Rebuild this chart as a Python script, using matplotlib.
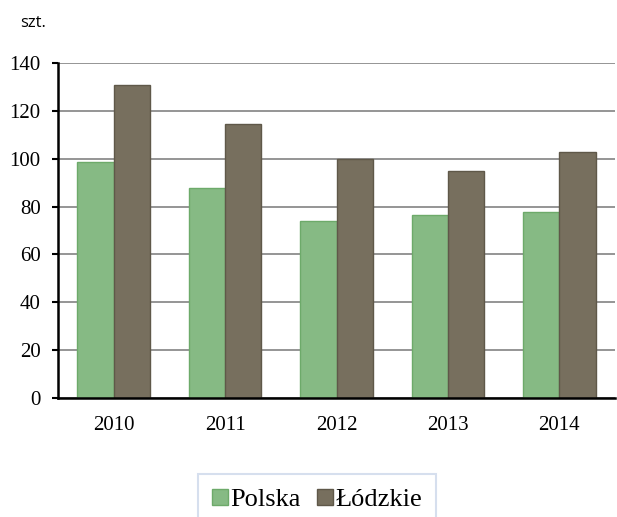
import matplotlib
matplotlib.use("Agg")
import matplotlib.pyplot as plt
import numpy as np

years = ["2010", "2011", "2012", "2013", "2014"]
polska = [98.7, 87.9, 74.1, 76.5, 77.6]
lodzkie = [130.8, 114.5, 99.9, 94.9, 102.8]
series_names = ["Polska", "Łódzkie"]
y_ticks = [0, 20, 40, 60, 80, 100, 120, 140]

serif = ["Liberation Serif", "DejaVu Serif"]

fig = plt.figure(figsize=(6.17, 5.17), dpi=100)
ax = fig.add_axes([58 / 617, 119 / 517, 557 / 617, 335 / 517])

x = np.arange(len(years))
w = 0.325
ax.bar(x - w / 2, polska, w, color="#86BA84", edgecolor="#6DAA6A", linewidth=1.0,
       label=series_names[0], zorder=3)
ax.bar(x + w / 2, lodzkie, w, color="#776F5E", edgecolor="#5F5849", linewidth=1.0,
       label=series_names[1], zorder=3)

ax.set_xlim(-0.5, len(years) - 0.5)
ax.set_ylim(0, 140)
ax.set_yticks(y_ticks)
ax.set_yticklabels([str(t) for t in y_ticks], fontfamily=serif, fontsize=15)
ax.set_xticks(x)
ax.set_xticklabels(years, fontfamily=serif, fontsize=15)
ax.tick_params(axis="x", length=0, pad=13)
ax.tick_params(axis="y", length=4.5, width=1.5, direction="out", pad=8)

ax.grid(axis="y", color="#8C8C8C", linewidth=1.3, zorder=0)
for s in ["top", "right"]:
    ax.spines[s].set_visible(False)
ax.spines["left"].set_linewidth(1.8)
ax.spines["bottom"].set_linewidth(1.8)
ax.spines["left"].set_color("black")
ax.spines["bottom"].set_color("black")
ax.spines["bottom"].set_zorder(4)

fig.text(20 / 617, 1 - 23 / 517, "szt.", fontfamily=["Open Sans", "DejaVu Sans"],
         fontsize=12, va="center", ha="left")

leg = fig.legend(loc="upper center", bbox_to_anchor=(317 / 617, 1 - 474 / 517),
                 ncol=2, frameon=True, fancybox=False, prop={"family": serif, "size": 19},
                 handlelength=0.6, handleheight=0.6, handletextpad=0.1,
                 columnspacing=0.6, borderpad=0.55, borderaxespad=0)
leg.get_frame().set_edgecolor("#CCD8EA")
leg.get_frame().set_linewidth(1.5)

fig.savefig("out.png", dpi=100)
